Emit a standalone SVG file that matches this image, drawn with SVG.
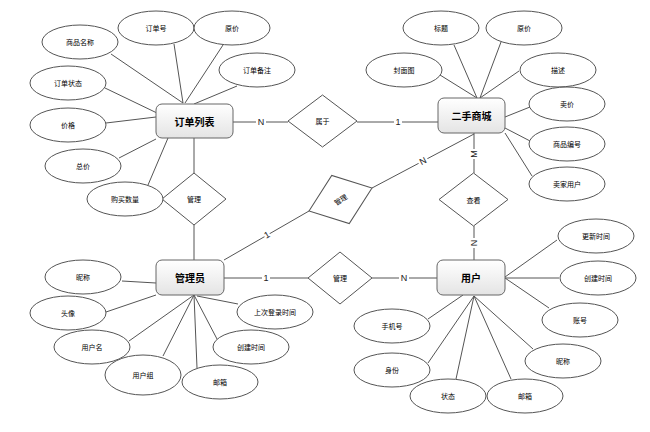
<svg xmlns="http://www.w3.org/2000/svg" width="650" height="432" viewBox="0 0 650 432">
<defs>
<linearGradient id="boxg" x1="0" y1="0" x2="0" y2="1">
<stop offset="0" stop-color="#ffffff"/>
<stop offset="1" stop-color="#e4e4e4"/>
</linearGradient>
</defs>
<style>
.e{fill:#fff;stroke:#555;stroke-width:1}
.b{fill:url(#boxg);stroke:#666;stroke-width:1}
.d{fill:#fff;stroke:#555;stroke-width:1}
.c line{stroke:#555;stroke-width:1}
.t{font-family:"Noto Sans CJK SC","Noto Sans",sans-serif;font-size:7px;fill:#000;text-anchor:middle;dominant-baseline:central}
.bt{font-family:"Noto Sans CJK SC","Noto Sans",sans-serif;font-size:10px;font-weight:bold;fill:#000;text-anchor:middle;dominant-baseline:central}
.l{font-family:"Liberation Sans",Arial,sans-serif;font-size:9px;fill:#222;text-anchor:middle;dominant-baseline:central}
.lb{fill:#fff}
</style>
<rect width="650" height="432" fill="#fff"/>
<g id="connectors" class="c">
<line x1="111" y1="54" x2="183" y2="103"/>
<line x1="174" y1="44" x2="183" y2="103"/>
<line x1="223" y1="45" x2="185" y2="103"/>
<line x1="237" y1="86" x2="194" y2="104"/>
<line x1="105" y1="88" x2="157" y2="113"/>
<line x1="106" y1="123" x2="156" y2="117"/>
<line x1="119" y1="158" x2="156" y2="139"/>
<line x1="148" y1="185" x2="168" y2="138"/>
<line x1="194" y1="138" x2="194" y2="173"/>
<line x1="233" y1="122" x2="288" y2="122"/>
<line x1="440" y1="75" x2="477" y2="98"/>
<line x1="454" y1="45" x2="477" y2="98"/>
<line x1="501" y1="42" x2="480" y2="98"/>
<line x1="519" y1="71" x2="480" y2="98"/>
<line x1="530" y1="107" x2="505" y2="117"/>
<line x1="532" y1="142" x2="505" y2="128"/>
<line x1="532" y1="176" x2="505" y2="133"/>
<line x1="357" y1="122" x2="438" y2="122"/>
<line x1="474" y1="133" x2="474" y2="173"/>
<line x1="474" y1="134" x2="372" y2="188"/>
<line x1="194" y1="225" x2="194" y2="260"/>
<line x1="224" y1="260" x2="309" y2="211"/>
<line x1="224" y1="278" x2="308" y2="278"/>
<line x1="122" y1="281" x2="156" y2="283"/>
<line x1="106" y1="312" x2="156" y2="295"/>
<line x1="129" y1="341" x2="194" y2="295"/>
<line x1="163" y1="356" x2="194" y2="295"/>
<line x1="197" y1="368" x2="194" y2="295"/>
<line x1="217" y1="339" x2="194" y2="295"/>
<line x1="238" y1="304" x2="197" y2="296"/>
<line x1="372" y1="278" x2="437" y2="278"/>
<line x1="474" y1="226" x2="474" y2="260"/>
<line x1="505" y1="277" x2="557" y2="240"/>
<line x1="505" y1="278" x2="559" y2="278"/>
<line x1="505" y1="278" x2="549" y2="308"/>
<line x1="474" y1="296" x2="533" y2="349"/>
<line x1="474" y1="296" x2="511" y2="379"/>
<line x1="474" y1="296" x2="456" y2="379"/>
<line x1="474" y1="296" x2="428" y2="363"/>
<line x1="463" y1="295" x2="428" y2="319"/>
<g id="edge-labels">
<rect class="lb" x="256" y="116" width="10" height="11"/><text class="l" x="261" y="122">N</text>
<rect class="lb" x="394" y="116" width="8" height="11"/><text class="l" x="398" y="122">1</text>
<g transform="translate(474,154) rotate(-90)"><rect class="lb" x="-5" y="-5" width="10" height="10"/><text class="l" x="0" y="0">M</text></g>
<g transform="translate(423,161) rotate(-28)"><rect class="lb" x="-5" y="-5" width="10" height="10"/><text class="l" x="0" y="0">N</text></g>
<g transform="translate(267,235) rotate(-30)"><rect class="lb" x="-3" y="-5" width="6" height="10"/><text class="l" x="0" y="0">1</text></g>
<rect class="lb" x="262" y="272" width="8" height="11"/><text class="l" x="266" y="278">1</text>
<rect class="lb" x="399" y="272" width="10" height="11"/><text class="l" x="404" y="278">N</text>
<g transform="translate(474,243) rotate(-90)"><rect class="lb" x="-5" y="-5" width="10" height="10"/><text class="l" x="0" y="0">N</text></g>
</g>
</g>
<g id="order">
<rect class="b" x="156" y="104" width="77" height="34" rx="6"/>
<text class="bt" x="194.5" y="121">订单列表</text>
</g>
<g id="mall">
<rect class="b" x="438" y="98" width="67" height="35" rx="6"/>
<text class="bt" x="471.5" y="115.5">二手商城</text>
</g>
<g id="admin">
<rect class="b" x="156" y="260" width="68" height="35" rx="6"/>
<text class="bt" x="190" y="277.5">管理员</text>
</g>
<g id="user">
<rect class="b" x="437" y="260" width="68" height="35" rx="6"/>
<text class="bt" x="471" y="277.5">用户</text>
</g>
<g id="rel-belong">
<polygon class="d" points="288,121 322.5,95 357,121 322.5,147"/>
<text class="t" x="322.5" y="121">属于</text>
</g>
<g id="rel-manage-order">
<polygon class="d" points="162,199 194,173 226,199 194,225"/>
<text class="t" x="194" y="199">管理</text>
</g>
<g id="rel-view">
<polygon class="d" points="439,199.5 473.5,173 508,199.5 473.5,226"/>
<text class="t" x="473.5" y="199.5">查看</text>
</g>
<g id="rel-manage-mall" transform="translate(340.5,199.5) rotate(-20)">
<polygon class="d" points="-33.5,0 0,-25.6 33.5,0 0,25.6"/>
<text class="t" x="0" y="0" transform="rotate(-12)">管理</text>
</g>
<g id="rel-manage-user">
<polygon class="d" points="308,278 340,252 372,278 340,304"/>
<text class="t" x="340" y="278">管理</text>
</g>
<g id="attr-order-name"><ellipse class="e" cx="80" cy="42" rx="38" ry="17"/><text class="t" x="80" y="42">商品名称</text></g>
<g id="attr-order-no"><ellipse class="e" cx="156" cy="28" rx="38" ry="17"/><text class="t" x="156" y="28">订单号</text></g>
<g id="attr-order-oprice"><ellipse class="e" cx="232" cy="28" rx="38" ry="17"/><text class="t" x="232" y="28">原价</text></g>
<g id="attr-order-note"><ellipse class="e" cx="257" cy="70" rx="38" ry="17"/><text class="t" x="257" y="70">订单备注</text></g>
<g id="attr-order-status"><ellipse class="e" cx="68" cy="83" rx="38" ry="17"/><text class="t" x="68" y="83">订单状态</text></g>
<g id="attr-order-price"><ellipse class="e" cx="68" cy="125" rx="38" ry="17"/><text class="t" x="68" y="125">价格</text></g>
<g id="attr-order-total"><ellipse class="e" cx="83" cy="166" rx="38" ry="17"/><text class="t" x="83" y="166">总价</text></g>
<g id="attr-order-qty"><ellipse class="e" cx="125" cy="199" rx="38" ry="17"/><text class="t" x="125" y="199">购买数量</text></g>
<g id="attr-mall-title"><ellipse class="e" cx="441" cy="28" rx="38" ry="17"/><text class="t" x="441" y="28">标题</text></g>
<g id="attr-mall-oprice"><ellipse class="e" cx="524" cy="28" rx="38" ry="17"/><text class="t" x="524" y="28">原价</text></g>
<g id="attr-mall-cover"><ellipse class="e" cx="404" cy="70" rx="38" ry="17"/><text class="t" x="404" y="70">封面图</text></g>
<g id="attr-mall-desc"><ellipse class="e" cx="558" cy="70" rx="38" ry="17"/><text class="t" x="558" y="70">描述</text></g>
<g id="attr-mall-sprice"><ellipse class="e" cx="567" cy="104" rx="38" ry="17"/><text class="t" x="567" y="104">卖价</text></g>
<g id="attr-mall-no"><ellipse class="e" cx="567" cy="144" rx="38" ry="17"/><text class="t" x="567" y="144">商品编号</text></g>
<g id="attr-mall-seller"><ellipse class="e" cx="567" cy="184" rx="38" ry="17"/><text class="t" x="567" y="184">卖家用户</text></g>
<g id="attr-admin-nick"><ellipse class="e" cx="83" cy="277" rx="38" ry="17"/><text class="t" x="83" y="277">昵称</text></g>
<g id="attr-admin-avatar"><ellipse class="e" cx="68" cy="313" rx="38" ry="17"/><text class="t" x="68" y="313">头像</text></g>
<g id="attr-admin-uname"><ellipse class="e" cx="92" cy="347" rx="38" ry="17"/><text class="t" x="92" y="347">用户名</text></g>
<g id="attr-admin-group"><ellipse class="e" cx="143" cy="375" rx="38" ry="20"/><text class="t" x="143" y="375">用户组</text></g>
<g id="attr-admin-email"><ellipse class="e" cx="220" cy="382" rx="38" ry="17"/><text class="t" x="220" y="382">邮箱</text></g>
<g id="attr-admin-created"><ellipse class="e" cx="251" cy="347" rx="38" ry="17"/><text class="t" x="251" y="347">创建时间</text></g>
<g id="attr-admin-lastlogin"><ellipse class="e" cx="275" cy="312" rx="38" ry="17"/><text class="t" x="275" y="312">上次登录时间</text></g>
<g id="attr-user-updated"><ellipse class="e" cx="596" cy="236" rx="38" ry="17"/><text class="t" x="596" y="236">更新时间</text></g>
<g id="attr-user-created"><ellipse class="e" cx="598" cy="278" rx="38" ry="17"/><text class="t" x="598" y="278">创建时间</text></g>
<g id="attr-user-account"><ellipse class="e" cx="580" cy="320" rx="38" ry="17"/><text class="t" x="580" y="320">账号</text></g>
<g id="attr-user-nick"><ellipse class="e" cx="563" cy="361" rx="38" ry="17"/><text class="t" x="563" y="361">昵称</text></g>
<g id="attr-user-email"><ellipse class="e" cx="525" cy="396" rx="38" ry="17"/><text class="t" x="525" y="396">邮箱</text></g>
<g id="attr-user-status"><ellipse class="e" cx="448" cy="396" rx="38" ry="17"/><text class="t" x="448" y="396">状态</text></g>
<g id="attr-user-role"><ellipse class="e" cx="392" cy="370" rx="38" ry="17"/><text class="t" x="392" y="370">身份</text></g>
<g id="attr-user-phone"><ellipse class="e" cx="392" cy="326" rx="38" ry="17"/><text class="t" x="392" y="326">手机号</text></g>
</svg>
